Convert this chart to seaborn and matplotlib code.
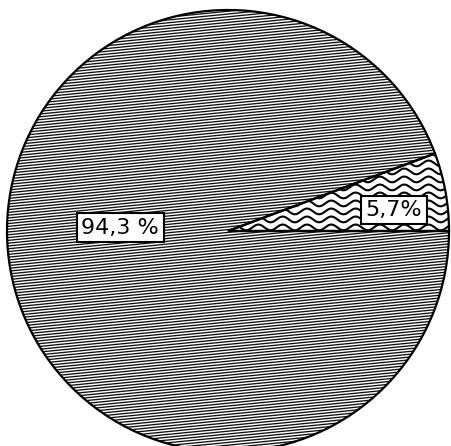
import numpy as np
import matplotlib
matplotlib.use('Agg')
import matplotlib.pyplot as plt
import seaborn as sns

sns.set_theme(style="white")
plt.rcParams['font.family'] = ['DejaVu Sans']

# data
shares = [5.7, 94.3]
labels = ["5,7%", "94,3 %"]
label_pos = [(0.75, 0.095), (-0.487, 0.014)]

fig = plt.figure(figsize=(4.51, 4.46), dpi=100)
ax = fig.add_axes([0, 0, 1, 1])

wedges, _ = ax.pie(shares, startangle=0, counterclock=True, radius=1.0,
                   colors=["white", "white"],
                   wedgeprops=dict(edgecolor="black", linewidth=1.6))

# texture for the big slice: dense, slightly tilted lines (scanned look)
big = wedges[1]
xs = np.linspace(-1.1, 1.1, 2)
for y0 in np.arange(-1.4, 1.4, 2.8 / 221):
    ln, = ax.plot(xs, y0 + 0.1 * xs, color="#111111", lw=0.95, zorder=2)
    ln.set_clip_path(big)

# texture for the small slice: wavy lines
small = wedges[0]
xw = np.linspace(0, 1.05, 400)
for y0 in np.arange(-0.02, 0.45, 8.0 / 221):
    ln, = ax.plot(xw, y0 + 0.013 * np.sin(xw * 2 * np.pi / 0.11), color="black", lw=1.5, zorder=2)
    ln.set_clip_path(small)

# redraw outlines on top
for w in wedges:
    w.set_zorder(3)
    w.set_facecolor("none")

for txt, (x, y) in zip(labels, label_pos):
    ax.text(x, y, txt, ha="center", va="center", fontsize=16, color="black", zorder=5,
            bbox=dict(boxstyle="square,pad=0.2", facecolor="white", edgecolor="black", linewidth=1.5))

ax.set_xlim(-228 / 221, (451 - 228) / 221)
ax.set_ylim(-(446 - 231) / 221, 231 / 221)
ax.set_aspect("auto")
ax.axis("off")

fig.savefig("out.png", dpi=100, facecolor="white")
